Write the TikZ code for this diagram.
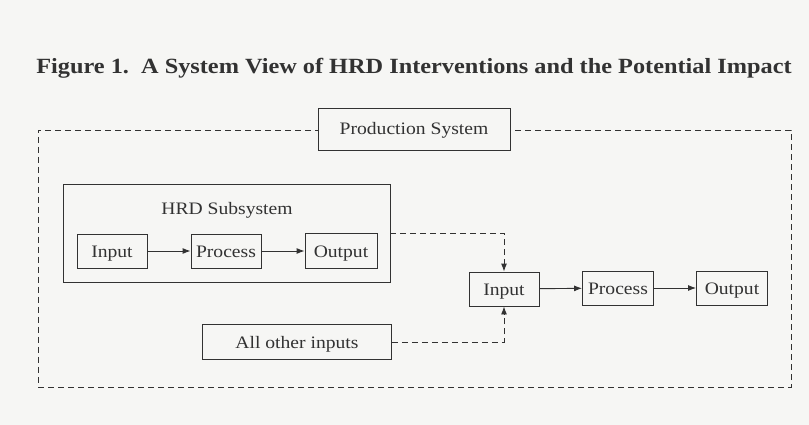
\documentclass[tikz,border=0pt]{standalone}
\usepackage{fontspec}
\setmainfont[FakeStretch=1.12]{Liberation Serif}
\usetikzlibrary{arrows.meta}
\definecolor{bg}{RGB}{246,246,244}
\definecolor{ink}{RGB}{50,50,50}
\tikzset{
  box/.style={draw=ink, line width=0.9pt, fill=bg, inner sep=0pt, font=\fontsize{17.5}{20}\selectfont, text=ink, text height=16pt, text depth=4pt},
  flow/.style={draw=ink, line width=0.9pt, -{Latex[length=8pt,width=6pt]}},
  dflow/.style={draw=ink, line width=0.9pt, dash pattern=on 6pt off 4pt, -{Latex[length=8pt,width=6pt]}},
  frame/.style={draw=ink, line width=0.9pt, dash pattern=on 6pt off 4pt}
}
\begin{document}
\begin{tikzpicture}[x=1pt,y=-1pt]
\fill[bg] (0,0) rectangle (809,425);
\useasboundingbox (0,0) rectangle (809,425);
\node[text=ink, font=\fontsize{21.7}{24}\bfseries\selectfont] (title) at (414,68) {Figure 1.\ \ A System View of HRD Interventions and the Potential Impact};
\node[frame, minimum width=753pt, minimum height=257pt, inner sep=0pt] (frame) at (414.5,258.5) {};
\node[box, minimum width=192pt, minimum height=42pt] (prod) at (414,129) {Production System};
\node[box, minimum width=327pt, minimum height=98pt] (hrd) at (226.5,233) {};
\node[text=ink, font=\fontsize{17.5}{20}\selectfont] (hrdlabel) at (227,210) {HRD Subsystem};
\node[box, minimum width=70pt, minimum height=34pt] (in1) at (112,251) {Input};
\node[box, minimum width=70pt, minimum height=34pt] (pr1) at (226,251) {Process};
\node[box, minimum width=72pt, minimum height=35pt] (out1) at (341,251) {Output};
\node[box, minimum width=70pt, minimum height=34pt] (in2) at (504,289) {Input};
\node[box, minimum width=71pt, minimum height=34pt] (pr2) at (618,288) {Process};
\node[box, minimum width=71pt, minimum height=34pt] (out2) at (732,288) {Output};
\node[box, minimum width=189pt, minimum height=35pt] (other) at (297,342) {All other inputs};
\draw[flow] (in1) -- (pr1);
\draw[flow] (pr1) -- (out1);
\draw[flow] (in2) -- (pr2);
\draw[flow] (pr2) -- (out2);
\draw[dflow] (hrd.east) -| (in2.north);
\draw[dflow] (other.east) -| (in2.south);
\end{tikzpicture}
\end{document}
